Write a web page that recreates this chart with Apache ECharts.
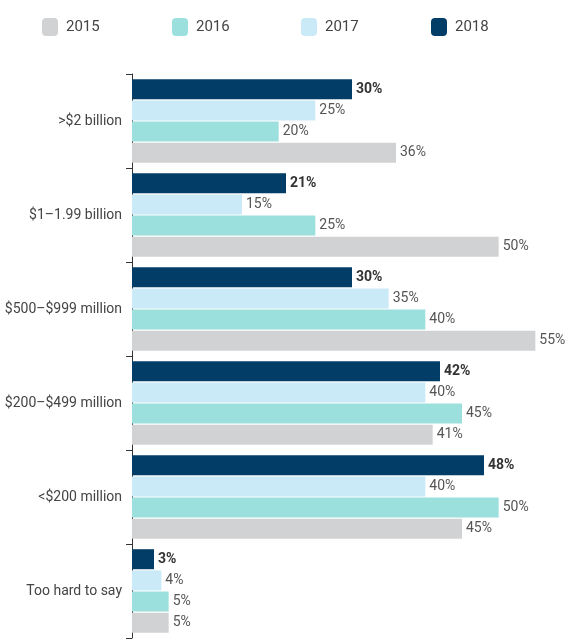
<!DOCTYPE html>
<html><head><meta charset="utf-8">
<script src="https://cdn.jsdelivr.net/npm/echarts@6/dist/echarts.min.js"></script>
<style>html,body{margin:0;padding:0;background:#fff}#c{width:581px;height:642px}</style>
</head><body><div id="c"></div>
<script>
const categories = ['>$2 billion', '$1–1.99 billion', '$500–$999 million', '$200–$499 million', '<$200 million', 'Too hard to say'];
const years = ['2015', '2016', '2017', '2018'];
const v2015 = [36, 50, 55, 41, 45, 5];
const v2016 = [20, 25, 40, 45, 50, 5];
const v2017 = [25, 15, 35, 40, 40, 4];
const v2018 = [30, 21, 30, 42, 48, 3];

const FONT = '"Liberation Sans Narrow", "Roboto", sans-serif';
const colors = {'2015': '#d1d2d4', '2016': '#9ce0dd', '2017': '#cbeaf7', '2018': '#023d68'};
const values = {'2015': v2015, '2016': v2016, '2017': v2017, '2018': v2018};
const legendLeft = [42, 172, 301, 431];

const chart = echarts.init(document.getElementById('c'));
const order = ['2018', '2017', '2016', '2015'];
chart.setOption({
  animation: false,
  legend: years.map((y, i) => ({
    data: [y], left: legendLeft[i], top: 18, padding: 0, itemWidth: 16, itemHeight: 18, itemGap: 8,
    icon: 'roundRect', selectedMode: false,
    textStyle: {fontFamily: FONT, fontSize: 15, color: '#444', padding: [0, 0, 0, 3]}
  })),
  grid: {left: 132, right: 9, top: 74, bottom: 4, containLabel: false, outerBoundsMode: 'none'},
  xAxis: {type: 'value', min: 0, max: 60, show: false},
  yAxis: {
    type: 'category', data: categories, inverse: true,
    axisLine: {lineStyle: {color: '#333', width: 1}},
    axisTick: {show: true, length: 6, lineStyle: {color: '#333'}},
    axisLabel: {fontFamily: FONT, fontSize: 14, color: '#444', margin: 10}
  },
  series: order.map(y => ({
    name: y, type: 'bar', data: values[y], barWidth: 20, barGap: '6%',
    itemStyle: {color: colors[y]},
    label: {
      show: true, position: 'right', distance: 4, formatter: '{c}%',
      fontFamily: FONT, fontSize: 14,
      color: y === '2018' ? '#333' : '#555', fontWeight: y === '2018' ? 'bold' : 'normal'
    }
  }))
});
</script></body></html>
